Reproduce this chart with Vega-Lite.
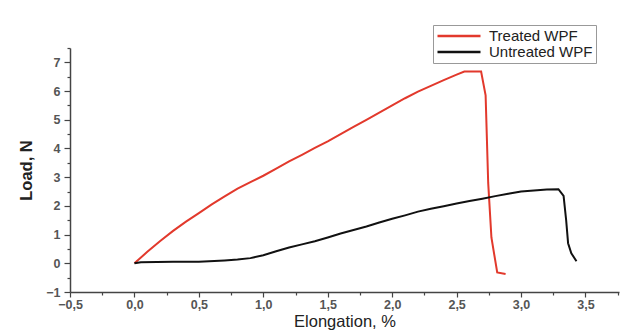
{
  "$schema": "https://vega.github.io/schema/vega-lite/v6.json",
  "width": 549,
  "height": 244,
  "autosize": {"type": "none"},
  "padding": {"left": 70, "top": 48, "right": 7, "bottom": 43},
  "background": "white",
  "config": {
    "view": {"stroke": null},
    "font": "Liberation Sans",
    "axis": {"grid": false, "domainColor": "#444", "domainWidth": 1.5, "tickColor": "#444", "tickWidth": 1.2, "labelColor": "#555", "labelFont": "Liberation Sans", "labelFontWeight": "bold", "labelFontSize": 12.5, "titleFont": "Liberation Sans", "titleColor": "#222", "titleFontSize": 16.5}
  },
  "data": {"values": [
    {"s": "Treated WPF", "x": 0.0, "y": 0.0},
    {"s": "Treated WPF", "x": 0.1, "y": 0.4},
    {"s": "Treated WPF", "x": 0.2, "y": 0.78},
    {"s": "Treated WPF", "x": 0.3, "y": 1.13},
    {"s": "Treated WPF", "x": 0.4, "y": 1.45},
    {"s": "Treated WPF", "x": 0.5, "y": 1.75},
    {"s": "Treated WPF", "x": 0.6, "y": 2.05},
    {"s": "Treated WPF", "x": 0.7, "y": 2.33},
    {"s": "Treated WPF", "x": 0.8, "y": 2.6},
    {"s": "Treated WPF", "x": 0.9, "y": 2.83},
    {"s": "Treated WPF", "x": 1.0, "y": 3.05},
    {"s": "Treated WPF", "x": 1.1, "y": 3.3},
    {"s": "Treated WPF", "x": 1.2, "y": 3.55},
    {"s": "Treated WPF", "x": 1.3, "y": 3.78},
    {"s": "Treated WPF", "x": 1.4, "y": 4.02},
    {"s": "Treated WPF", "x": 1.5, "y": 4.25},
    {"s": "Treated WPF", "x": 1.6, "y": 4.5},
    {"s": "Treated WPF", "x": 1.7, "y": 4.75},
    {"s": "Treated WPF", "x": 1.8, "y": 5.0},
    {"s": "Treated WPF", "x": 1.9, "y": 5.25},
    {"s": "Treated WPF", "x": 2.0, "y": 5.5},
    {"s": "Treated WPF", "x": 2.1, "y": 5.75},
    {"s": "Treated WPF", "x": 2.2, "y": 5.98},
    {"s": "Treated WPF", "x": 2.3, "y": 6.18},
    {"s": "Treated WPF", "x": 2.4, "y": 6.38},
    {"s": "Treated WPF", "x": 2.5, "y": 6.57},
    {"s": "Treated WPF", "x": 2.56, "y": 6.68},
    {"s": "Treated WPF", "x": 2.69, "y": 6.68},
    {"s": "Treated WPF", "x": 2.725, "y": 5.85},
    {"s": "Treated WPF", "x": 2.745, "y": 2.8},
    {"s": "Treated WPF", "x": 2.77, "y": 0.9},
    {"s": "Treated WPF", "x": 2.815, "y": -0.32},
    {"s": "Treated WPF", "x": 2.88, "y": -0.37},
    {"s": "Untreated WPF", "x": 0.0, "y": 0.0},
    {"s": "Untreated WPF", "x": 0.05, "y": 0.04},
    {"s": "Untreated WPF", "x": 0.3, "y": 0.05},
    {"s": "Untreated WPF", "x": 0.5, "y": 0.05},
    {"s": "Untreated WPF", "x": 0.7, "y": 0.1},
    {"s": "Untreated WPF", "x": 0.8, "y": 0.13},
    {"s": "Untreated WPF", "x": 0.9, "y": 0.18},
    {"s": "Untreated WPF", "x": 1.0, "y": 0.28},
    {"s": "Untreated WPF", "x": 1.1, "y": 0.42},
    {"s": "Untreated WPF", "x": 1.2, "y": 0.55},
    {"s": "Untreated WPF", "x": 1.3, "y": 0.66},
    {"s": "Untreated WPF", "x": 1.4, "y": 0.77},
    {"s": "Untreated WPF", "x": 1.5, "y": 0.9},
    {"s": "Untreated WPF", "x": 1.6, "y": 1.04},
    {"s": "Untreated WPF", "x": 1.7, "y": 1.16},
    {"s": "Untreated WPF", "x": 1.8, "y": 1.28},
    {"s": "Untreated WPF", "x": 1.9, "y": 1.42},
    {"s": "Untreated WPF", "x": 2.0, "y": 1.55},
    {"s": "Untreated WPF", "x": 2.1, "y": 1.67},
    {"s": "Untreated WPF", "x": 2.2, "y": 1.8},
    {"s": "Untreated WPF", "x": 2.3, "y": 1.9},
    {"s": "Untreated WPF", "x": 2.4, "y": 1.99},
    {"s": "Untreated WPF", "x": 2.5, "y": 2.08},
    {"s": "Untreated WPF", "x": 2.6, "y": 2.17},
    {"s": "Untreated WPF", "x": 2.7, "y": 2.25},
    {"s": "Untreated WPF", "x": 2.8, "y": 2.34},
    {"s": "Untreated WPF", "x": 2.9, "y": 2.42},
    {"s": "Untreated WPF", "x": 3.0, "y": 2.5},
    {"s": "Untreated WPF", "x": 3.1, "y": 2.54},
    {"s": "Untreated WPF", "x": 3.2, "y": 2.57},
    {"s": "Untreated WPF", "x": 3.29, "y": 2.58},
    {"s": "Untreated WPF", "x": 3.33, "y": 2.35},
    {"s": "Untreated WPF", "x": 3.35, "y": 1.5},
    {"s": "Untreated WPF", "x": 3.365, "y": 0.7},
    {"s": "Untreated WPF", "x": 3.39, "y": 0.35},
    {"s": "Untreated WPF", "x": 3.43, "y": 0.07}
  ]},
  "mark": {"type": "line", "strokeWidth": 2, "interpolate": "linear"},
  "encoding": {
    "x": {
      "field": "x", "type": "quantitative",
      "scale": {"domain": [-0.5, 3.76], "nice": false, "zero": false},
      "axis": {
        "title": "Elongation, %",
        "titleFontWeight": "normal",
        "titlePadding": 3,
        "values": [-0.5, -0.25, 0, 0.25, 0.5, 0.75, 1, 1.25, 1.5, 1.75, 2, 2.25, 2.5, 2.75, 3, 3.25, 3.5, 3.75],
        "labelExpr": "abs(datum.value*2 - round(datum.value*2)) < 0.001 ? replace(format(datum.value, '.1f'), '.', ',') : ''",
        "tickSize": {"condition": {"test": "abs(datum.value*2 - round(datum.value*2)) < 0.001", "value": 5}, "value": 3},
        "labelPadding": 1,
        "labelFlush": false
      }
    },
    "y": {
      "field": "y", "type": "quantitative",
      "scale": {"domain": [-1, 7.5], "nice": false, "zero": false},
      "axis": {
        "title": "Load, N",
        "titleFontWeight": "bold",
        "titlePadding": 11,
        "values": [-1, -0.5, 0, 0.5, 1, 1.5, 2, 2.5, 3, 3.5, 4, 4.5, 5, 5.5, 6, 6.5, 7, 7.5],
        "labelExpr": "datum.value % 1 === 0 ? format(datum.value, 'd') : ''",
        "tickSize": {"condition": {"test": "datum.value % 1 === 0", "value": 6}, "value": 3},
        "labelPadding": 4,
        "labelFlush": false
      }
    },
    "color": {
      "field": "s", "type": "nominal",
      "scale": {"domain": ["Treated WPF", "Untreated WPF"], "range": ["#e2392c", "#111111"]},
      "legend": {
        "title": null,
        "orient": "none",
        "legendX": 363,
        "legendY": -23,
        "strokeColor": "#999",
        "fillColor": "white",
        "padding": 3,
        "symbolType": "stroke",
        "symbolSize": 1849,
        "symbolStrokeWidth": 2.5,
        "labelFontSize": 15,
        "labelFont": "Liberation Sans",
        "labelColor": "#222",
        "labelOffset": 7,
        "clipHeight": 16,
        "rowPadding": 0
      }
    }
  }
}
